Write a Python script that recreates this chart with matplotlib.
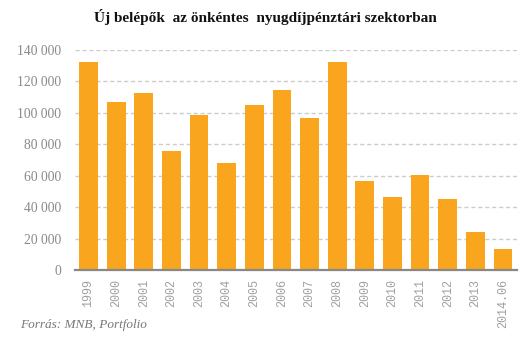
import matplotlib
matplotlib.use("Agg")
import matplotlib.pyplot as plt
from matplotlib.ticker import FuncFormatter

categories = ["1999", "2000", "2001", "2002", "2003", "2004", "2005", "2006",
              "2007", "2008", "2009", "2010", "2011", "2012", "2013", "2014.06"]
values = [132300, 106900, 112600, 75800, 98600, 68100, 105000, 114500,
          96700, 132300, 56700, 46600, 60500, 45300, 24300, 13500]
yticks = [0, 20000, 40000, 60000, 80000, 100000, 120000, 140000]

title = "Új belépők  az önkéntes  nyugdíjpénztári szektorban"
source = "Forrás: MNB, Portfolio"

W, H = 531, 342
fig = plt.figure(figsize=(W / 100, H / 100), dpi=100)
ax = fig.add_axes([74.7 / W, 1 - 270.3 / H, (516.8 - 74.7) / W, (270.3 - 49.7) / H])

x = list(range(len(categories)))
ax.bar(x, values, width=0.68, color="#F9A61E", zorder=3)

ax.set_xlim(-0.5, len(categories) - 0.5)
ax.set_ylim(0, 140000)
ax.set_yticks(yticks)
ax.yaxis.set_major_formatter(FuncFormatter(lambda v, p: "0" if v == 0 else f"{int(v):,}".replace(",", " ")))
ax.grid(axis="y", color="#cccccc", linestyle=(0, (3, 2)), linewidth=1, zorder=0)
ax.set_axisbelow(True)

for s in ["top", "right", "left"]:
    ax.spines[s].set_visible(False)
ax.spines["bottom"].set_color("#888888")
ax.spines["bottom"].set_linewidth(1.6)
ax.spines["bottom"].set_zorder(4)

ax.tick_params(axis="y", length=0, pad=10, labelsize=9.8, labelcolor="#8a8a8a")
for lab in ax.get_yticklabels():
    lab.set_family("Liberation Serif")

ax.set_xticks(x)
ax.set_xticklabels(categories, rotation=90, family="Liberation Mono", fontsize=8.5,
                   color="#a0a0a0", va="top")
ax.tick_params(axis="x", length=0, pad=6)

fig.text(0.5, 1 - 17 / H, title, ha="center", va="center", fontsize=11,
         fontweight="bold", family="Liberation Serif", color="#111111")
fig.text(20 / W, 1 - 325 / H, source, ha="left", va="center", fontsize=9.5,
         style="italic", family="Liberation Serif", color="#777777")

fig.savefig("out.png", dpi=100)
